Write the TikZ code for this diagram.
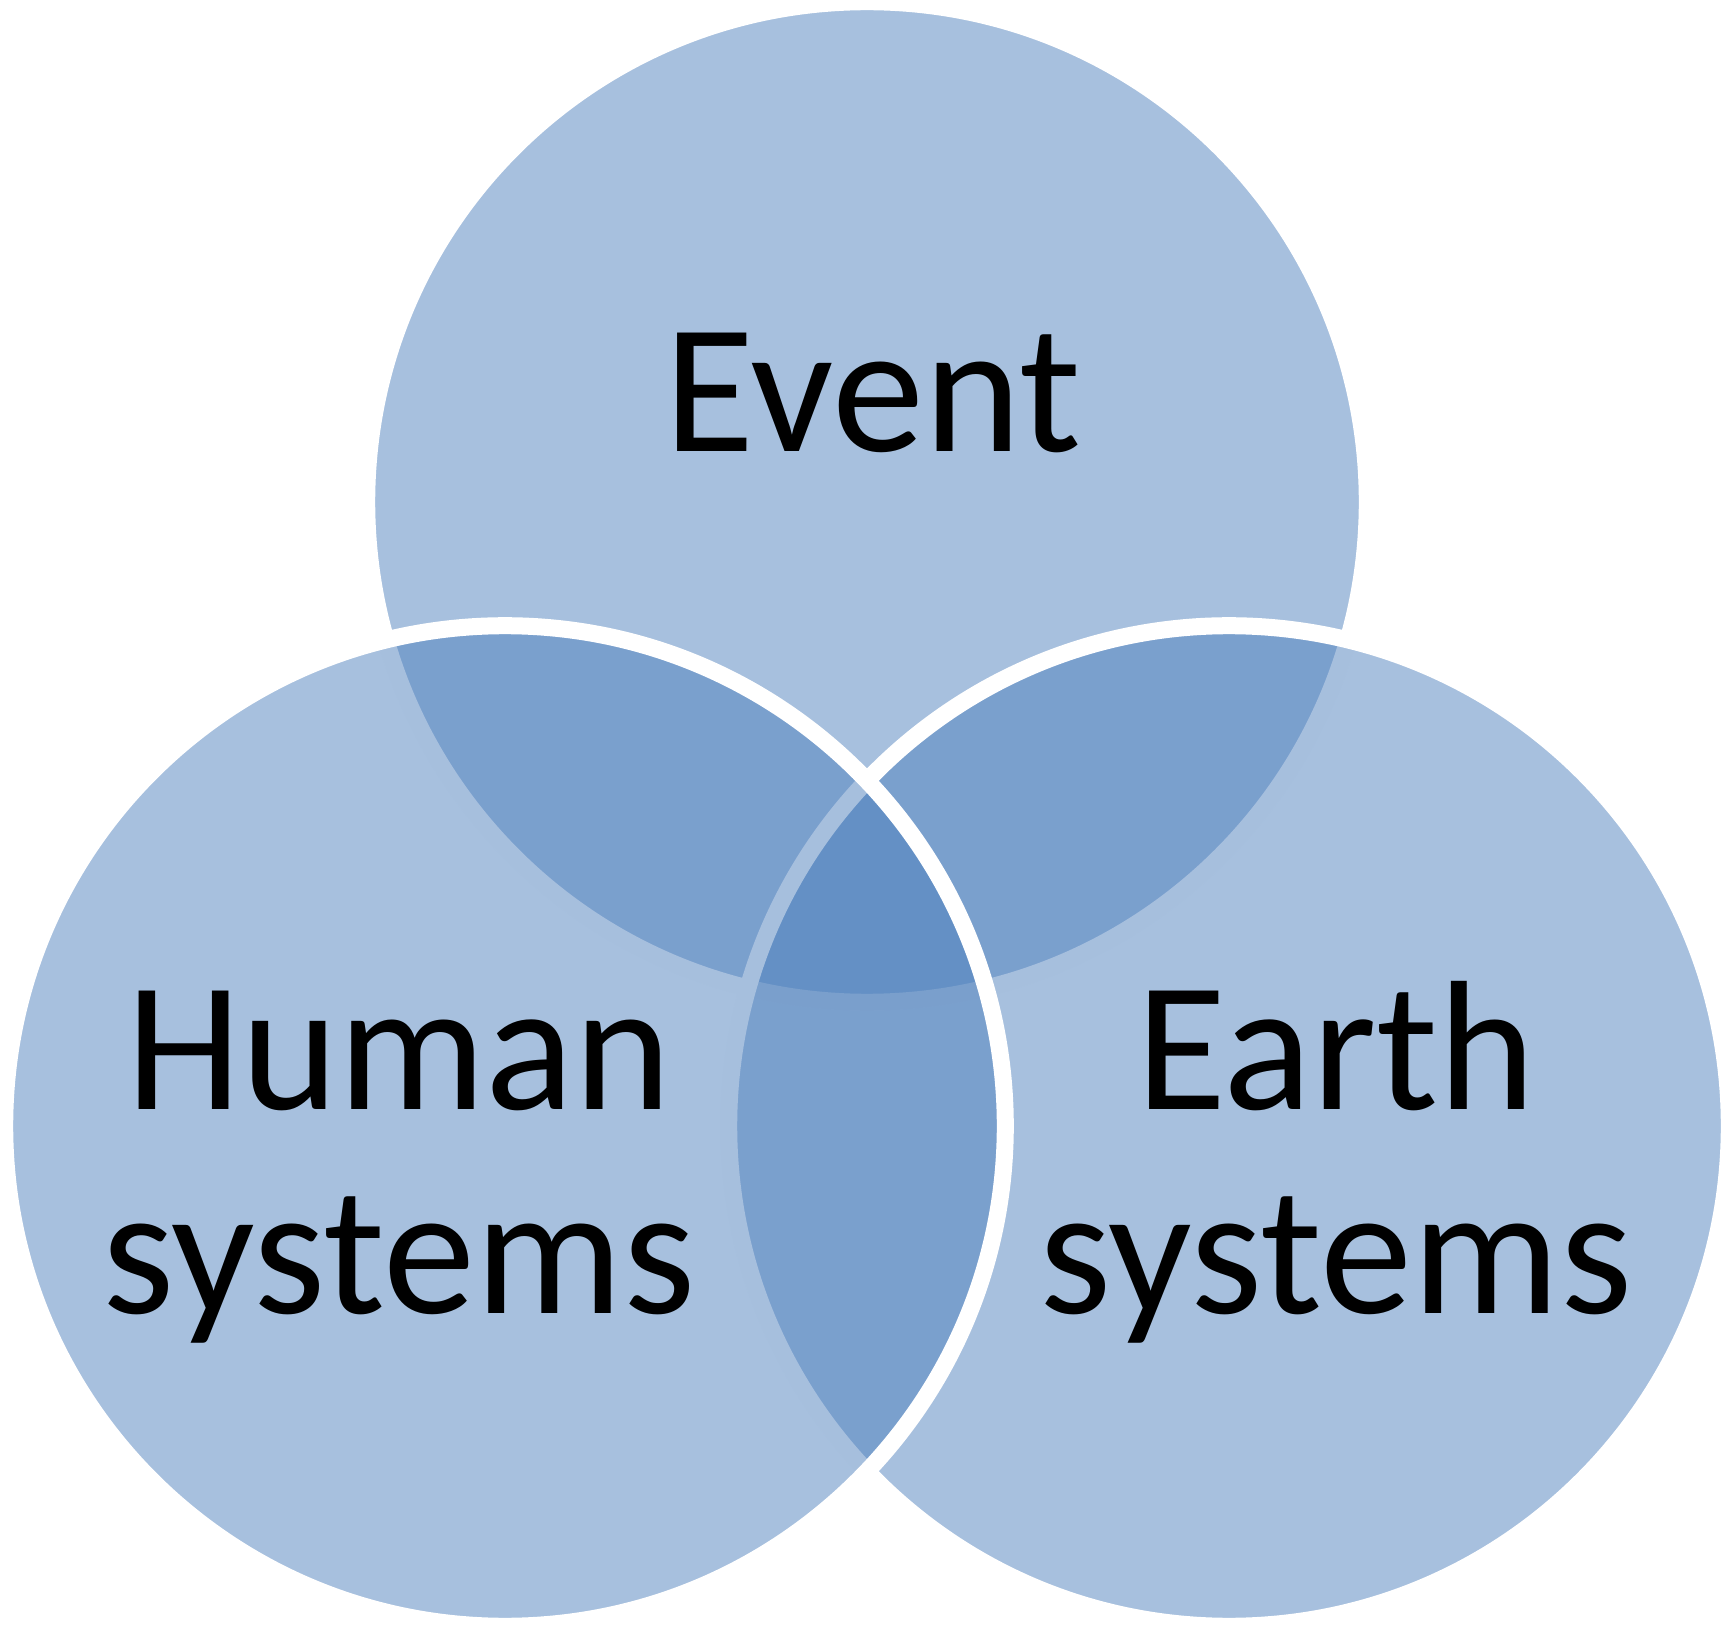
\documentclass[tikz,border=0pt]{standalone}
\usepackage{fontspec}
\setmainfont{Carlito}
\definecolor{vennblue}{RGB}{79,129,189}
\begin{document}
\begin{tikzpicture}[x=0.01cm,y=-0.01cm,
  venn/.style={circle,minimum size=10cm,inner sep=0pt,outer sep=0pt,
    fill=vennblue,fill opacity=0.5,draw=white,line width=0.17cm},
  lbl/.style={font=\fontsize{52.5}{58}\selectfont,align=center,text=black,
    inner sep=0pt,anchor=base}]
\useasboundingbox (0,0) rectangle (1730,1631);
\node[venn] (event) at (867,502) {};
\node[venn] (earth) at (1229,1126) {};
\node[venn] (human) at (505,1126) {};
\node[lbl] (eventlbl) at (873,452) {Event};
\node[lbl] (humanlbl) at (399,1313) {Human\\systems};
\node[lbl] (earthlbl) at (1336,1313) {Earth\\systems};
\end{tikzpicture}
\end{document}
